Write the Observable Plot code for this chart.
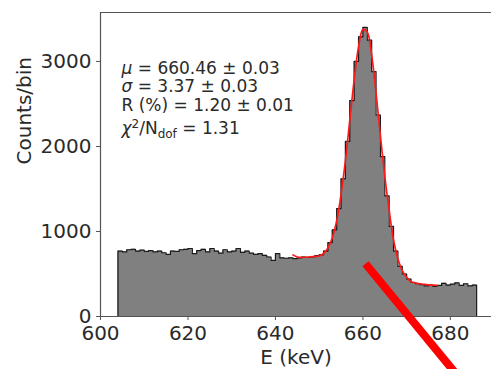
<!DOCTYPE html>
<html>
<head>
<meta charset="utf-8">
<script src="https://cdn.jsdelivr.net/npm/d3@7"></script>
<script src="https://cdn.jsdelivr.net/npm/@observablehq/plot@0.6"></script>
<style>
  html, body { margin: 0; padding: 0; background: white; }
</style>
</head>
<body>
<div id="chart"></div>
<script>
// Histogram bin left edges (keV), 1 keV bins from 604 to 686
const binStart = d3.range(604, 686);
const binWidth = 1;
// Counts per bin
const counts = [
  770, 760, 785, 790, 770, 780, 765, 775, 760, 770,   // 604-613
  750, 730, 770, 765, 785, 790, 800, 740, 775, 790,   // 614-623
  760, 800, 770, 745, 785, 760, 770, 800, 755, 770,   // 624-633
  745, 730, 740, 720, 700, 660, 740, 690, 685, 690,   // 634-643
  680, 690, 700, 695, 700, 715, 725, 770, 870, 1020,  // 644-653
  1270, 1620, 2060, 2540, 3000, 3290, 3400, 3250, 2880, 2370, // 654-663
  1880, 1420, 1060, 770, 590, 500, 440, 400, 385, 375, // 664-673
  360, 370, 355, 365, 390, 370, 380, 395, 365, 385,   // 674-683
  360, 370                                             // 684-685
];
// Fit curve (red)
const fitE = [644, 645, 646, 647, 648, 649, 650, 651, 652, 653, 654, 655, 656, 657, 658, 659, 660, 661, 662, 663, 664, 665, 666, 667, 668, 669, 670, 671, 672, 673, 674, 675, 676, 677];
const fitCounts = [725, 700, 695, 697, 702, 706, 711, 741, 806, 925, 1126, 1435, 1835, 2309, 2784, 3172, 3378, 3343, 3076, 2631, 2123, 1650, 1250, 900, 680, 540, 460, 410, 395, 385, 378, 372, 368, 365];
// Red slash annotation (data coordinates)
const slashE = [660.6, 682.5];
const slashCounts = [620, -750];
// Ticks
const xTicks = [600, 620, 640, 660, 680];
const yTicks = [0, 1000, 2000, 3000];
const statLines = ["μ = 660.46 ± 0.03", "σ = 3.37 ± 0.03", "R (%) = 1.20 ± 0.01"];
const chiLine = "χ2/Ndof = 1.31";

// Build the step outline / fill from the arrays
const steps = binStart.map((e, i) => ({E: e, c: counts[i]}));
const lastEdge = binStart[binStart.length - 1] + binWidth;
steps.push({E: lastEdge, c: counts[counts.length - 1]});
const outline = [{E: binStart[0], c: 0}, ...steps, {E: lastEdge, c: 0}];
const fit = fitE.map((e, i) => ({E: e, c: fitCounts[i]}));
const slash = slashE.map((e, i) => ({E: e, c: slashCounts[i]}));

const frameColor = "#555";
const chart = Plot.plot({
  width: 491,
  height: 369,
  marginLeft: 100,
  marginRight: 0,
  marginTop: 12,
  marginBottom: 53,
  style: {fontFamily: "DejaVu Sans", fontSize: "20px", color: "#2a2a2a", background: "white", overflow: "visible"},
  x: {domain: [600, 689.4]},
  y: {domain: [0, 3576]},
  marks: [
    Plot.areaY(steps, {x: "E", y: "c", curve: "step-after", fill: "#808080"}),
    Plot.line(outline, {x: "E", y: "c", curve: "step-after", stroke: "#1a1a1a", strokeWidth: 1.2}),
    Plot.line(fit, {x: "E", y: "c", curve: "catmull-rom", stroke: "#ff1a1a", strokeWidth: 1.7}),
    Plot.ruleY([3576], {stroke: frameColor, strokeWidth: 1.2}),
    Plot.ruleX([600], {stroke: frameColor, strokeWidth: 1.2}),
    Plot.ruleY([0], {stroke: frameColor, strokeWidth: 1.2}),
    Plot.axisX({ticks: xTicks, tickSize: 4, tickPadding: 5, label: null, tickFormat: d => String(d), stroke: frameColor}),
    Plot.axisY({ticks: yTicks, tickSize: 4, tickPadding: 5, label: null, tickFormat: d => String(d), stroke: frameColor}),
    Plot.text(["E (keV)"], {frameAnchor: "bottom", dy: 47, fontSize: 20}),
    Plot.text(["Counts/bin"], {frameAnchor: "left", dx: -76, rotate: -90, fontSize: 20}),
    Plot.text([statLines.join("\n")], {frameAnchor: "top-left", dx: 21, dy: 48, lineAnchor: "top", textAnchor: "start", fontSize: 17, lineHeight: 1.1, fill: "#2a2a2a"}),
    Plot.text([chiLine], {frameAnchor: "top-left", dx: 21, dy: 116, lineAnchor: "middle", textAnchor: "start", fontSize: 17, fill: "#2a2a2a"}),
    Plot.line(slash, {x: "E", y: "c", stroke: "#ff0000", strokeWidth: 8, strokeLinecap: "butt"})
  ]
});
document.getElementById("chart").appendChild(chart);

// Rich formatting of the chi-square line (superscript / subscript) and italic Greek letters
const svg = d3.select(chart);
svg.selectAll("text").each(function() {
  const t = d3.select(this);
  if (this.textContent === chiLine) {
    t.text(null);
    t.append("tspan").attr("font-style", "italic").text("χ");
    t.append("tspan").attr("font-size", 12).attr("dy", -6).text("2");
    t.append("tspan").attr("dy", 6).text("/N");
    t.append("tspan").attr("font-size", 12).attr("dy", 4).text("dof");
    t.append("tspan").attr("dy", -4).text(" = 1.31");
  }
});
svg.selectAll("tspan").each(function() {
  const s = d3.select(this);
  const txt = this.textContent;
  if (this.childElementCount === 0 && (txt.startsWith("μ") || txt.startsWith("σ"))) {
    const greek = txt[0], rest = txt.slice(1);
    s.text(null);
    s.append("tspan").attr("font-style", "italic").text(greek);
    s.append("tspan").text(rest);
  }
});
</script>
</body>
</html>
